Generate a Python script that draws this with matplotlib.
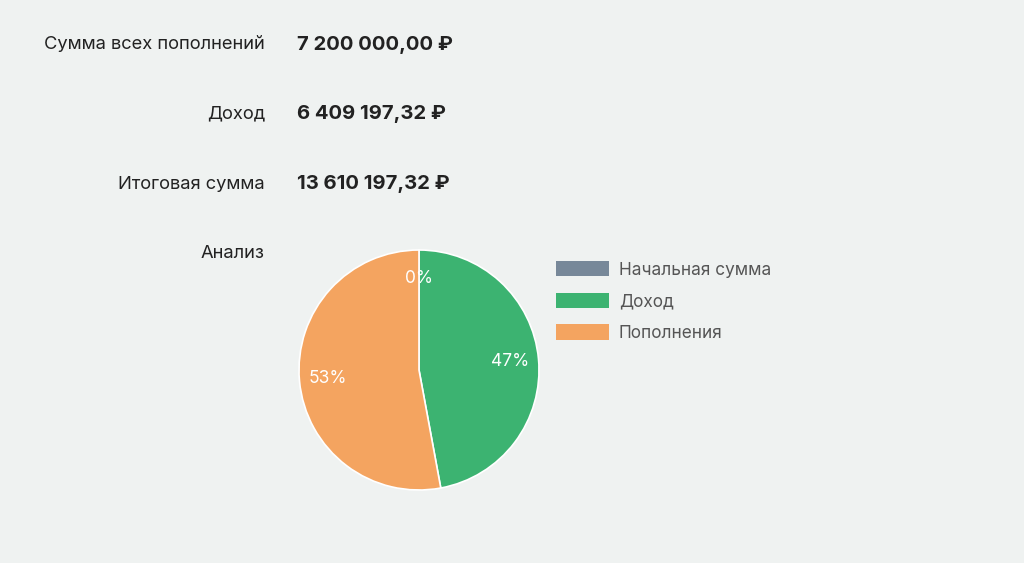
import matplotlib
matplotlib.use("Agg")
import matplotlib.pyplot as plt

plt.rcParams['font.family'] = ['Inter', 'DejaVu Sans']

row_labels = ["Сумма всех пополнений", "Доход", "Итоговая сумма", "Анализ"]
row_values = ["7 200 000,00 ₽", "6 409 197,32 ₽", "13 610 197,32 ₽", ""]

categories = ["Начальная сумма", "Доход", "Пополнения"]
values = [0.0, 6409197.32, 7200000.00]
colors = ["#778899", "#3CB371", "#F4A460"]

W, H = 1024, 563
bg = "#EFF2F1"
fig = plt.figure(figsize=(W / 100, H / 100), dpi=100, facecolor=bg)

row_y = [45, 114, 184, 253]
for lab, val, y in zip(row_labels, row_values, row_y):
    fig.text(265 / W, 1 - y / H, lab, ha="right", va="center",
             fontsize=13.2, color="#222222")
    if val:
        fig.text(297 / W, 1 - y / H, val, ha="left", va="center",
                 fontsize=14.6, fontweight="bold", color="#222222")

cx, cy, r = 419, 370, 120
ax = fig.add_axes([(cx - r) / W, 1 - (cy + r) / H, 2 * r / W, 2 * r / H])
ax.set_facecolor(bg)
wedges, texts, autotexts = ax.pie(
    values, colors=colors, startangle=90, counterclock=False,
    autopct="%.0f%%", pctdistance=0.76,
    wedgeprops=dict(edgecolor="white", linewidth=1.2),
    textprops=dict(color="white", fontsize=12.5))
ax.set_aspect("equal")
ax.set_xlim(-1, 1)
ax.set_ylim(-1, 1)
ax.axis("off")

leg = fig.legend(wedges, categories, loc="upper left",
                 bbox_to_anchor=(556 / W, 1 - 261 / H),
                 frameon=False, fontsize=12.4, labelcolor="#555555",
                 handlelength=3.1, handleheight=1.0, handletextpad=0.55,
                 labelspacing=0.82, borderaxespad=0, borderpad=0)
for h in leg.legend_handles:
    h.set_edgecolor("none")

fig.savefig("out.png", dpi=100, facecolor=bg)
